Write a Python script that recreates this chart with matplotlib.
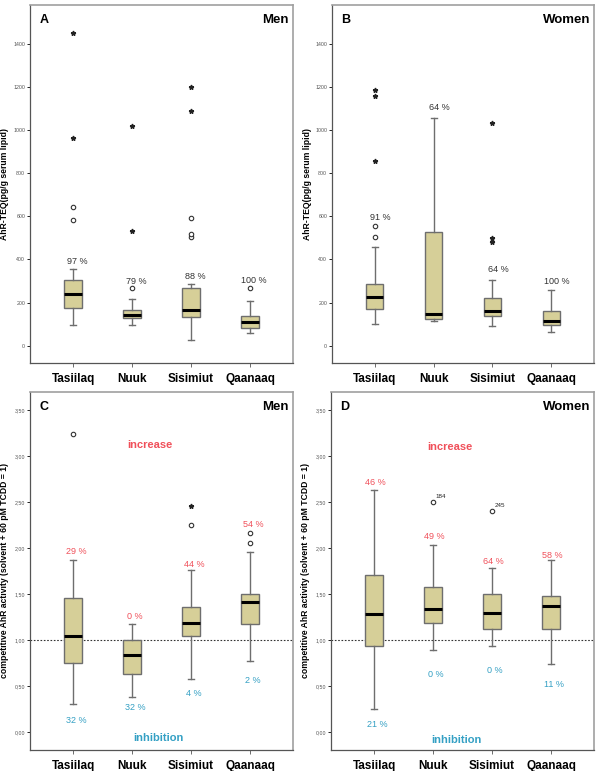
import matplotlib.pyplot as plt
from matplotlib.ticker import FuncFormatter

plt.rcParams['font.family'] = ['Liberation Sans', 'DejaVu Sans']

sites = ['Tasiilaq', 'Nuuk', 'Sisimiut', 'Qaanaaq']

# A - AhR-TEQ, men (whisker low, Q1, median, Q3, whisker high)
teq_men_low = [98, 95, 25, 58]
teq_men_q1 = [173, 128, 132, 80]
teq_men_med = [240, 143, 165, 110]
teq_men_q3 = [305, 165, 267, 138]
teq_men_high = [355, 215, 285, 207]
teq_men_circles = [[581, 642], [268], [503, 518, 592], [270]]
teq_men_stars = [[964, 1450], [530, 1019], [1090, 1200], []]
teq_men_pct = ['97 %', '79 %', '88 %', '100 %']
teq_men_pct_y = [392, 300, 321, 302]

# B - AhR-TEQ, women
teq_wom_low = [100, 115, 92, 62]
teq_wom_q1 = [170, 122, 138, 95]
teq_wom_med = [228, 148, 160, 113]
teq_wom_q3 = [288, 527, 220, 163]
teq_wom_high = [457, 1055, 303, 258]
teq_wom_circles = [[502, 553], [], [], []]
teq_wom_stars = [[858, 1158, 1185], [], [479, 501, 1032], []]
teq_wom_pct = ['91 %', '64 %', '64 %', '100 %']
teq_wom_pct_y = [594, 1104, 353, 297]

# C - competitive AhR activity, men
act_men_low = [0.30, 0.38, 0.58, 0.77]
act_men_q1 = [0.75, 0.63, 1.04, 1.17]
act_men_med = [1.04, 0.84, 1.19, 1.41]
act_men_q3 = [1.46, 1.00, 1.36, 1.50]
act_men_high = [1.87, 1.18, 1.76, 1.96]
act_men_circles = [[3.24], [], [2.25], [2.06, 2.17]]
act_men_stars = [[], [], [2.46], []]
act_men_up_pct = ['29 %', '0 %', '44 %', '54 %']
act_men_up_y = [1.96, 1.26, 1.82, 2.26]
act_men_down_pct = ['32 %', '32 %', '4 %', '2 %']
act_men_down_y = [0.12, 0.27, 0.42, 0.565]

# D - competitive AhR activity, women
act_wom_low = [0.245, 0.89, 0.935, 0.735]
act_wom_q1 = [0.94, 1.19, 1.12, 1.12]
act_wom_med = [1.28, 1.34, 1.29, 1.37]
act_wom_q3 = [1.71, 1.58, 1.50, 1.48]
act_wom_high = [2.63, 2.04, 1.79, 1.87]
act_wom_circles = [[], [2.50], [2.40], []]
act_wom_circle_ids = [[], ['184'], ['245'], []]
act_wom_stars = [[], [], [], []]
act_wom_up_pct = ['46 %', '49 %', '64 %', '58 %']
act_wom_up_y = [2.71, 2.13, 1.86, 1.92]
act_wom_down_pct = ['21 %', '0 %', '0 %', '11 %']
act_wom_down_y = [0.08, 0.63, 0.665, 0.52]

BOX = '#d6cf98'
RED = '#f0505a'
BLUE = '#34a0c4'
W, H = 600, 771

fig = plt.figure(figsize=(6, 7.71), dpi=100)


def make_axes(x0, y0, x1, y1):
    return fig.add_axes([x0 / W, 1 - y1 / H, (x1 - x0) / W, (y1 - y0) / H])


def draw_boxes(ax, low, q1, med, q3, high, circles, stars):
    stats = []
    for i in range(len(sites)):
        stats.append(dict(whislo=low[i], q1=q1[i], med=med[i], q3=q3[i], whishi=high[i]))
    pos = list(range(1, len(sites) + 1))
    ax.bxp(stats, positions=pos, widths=0.29, showfliers=False, patch_artist=True,
           capwidths=0.1,
           boxprops=dict(facecolor=BOX, edgecolor='#6e6e6e', linewidth=1.0),
           whiskerprops=dict(color='#6e6e6e', linewidth=1.0),
           capprops=dict(color='#6e6e6e', linewidth=1.0),
           medianprops=dict(color='black', linewidth=2.2))
    for i, p in enumerate(pos):
        if circles[i]:
            ax.plot([p] * len(circles[i]), circles[i], 'o', ms=3.2, mfc='white',
                    mec='#333333', mew=0.8, zorder=3)
        if stars[i]:
            ax.plot([p] * len(stars[i]), stars[i], '*', ms=3.5, color='#222222', zorder=3)
    return pos


def style(ax, letter, sex, ylabel, ylim, yticks, fmt):
    ax.set_xlim(0.27, 4.73)
    ax.set_ylim(*ylim)
    ax.set_yticks(yticks)
    ax.yaxis.set_major_formatter(FuncFormatter(fmt))
    ax.set_xticks(range(1, 5))
    ax.set_xticklabels(sites, fontsize=8.5, fontweight='bold')
    ax.tick_params(axis='y', labelsize=3.8, labelcolor='#555555', length=2, width=0.6, pad=1.5)
    ax.tick_params(axis='x', length=3, width=0.6, pad=4, color='#555555')
    for s in ['top', 'right']:
        ax.spines[s].set_color('#a0a0a0')
        ax.spines[s].set_linewidth(1.2)
    for s in ['left', 'bottom']:
        ax.spines[s].set_color('#555555')
        ax.spines[s].set_linewidth(0.9)
    ax.set_ylabel(ylabel, fontsize=6.2, fontweight='bold')
    ax.yaxis.set_label_coords(-0.078, 0.5)
    ax.text(0.035, 0.975, letter, transform=ax.transAxes, fontsize=9,
            fontweight='bold', va='top', ha='left')
    ax.text(0.985, 0.975, sex, transform=ax.transAxes, fontsize=9.5,
            fontweight='bold', va='top', ha='right')


def int_fmt(v, _):
    return f'{v:.0f}'


def comma_fmt(v, _):
    return f'{v:.2f}'.replace('.', ',')


teq_ticks = [0, 200, 400, 600, 800, 1000, 1200, 1400]
act_ticks = [0, 0.5, 1.0, 1.5, 2.0, 2.5, 3.0, 3.5]

# A
axA = make_axes(30, 5, 293, 363)
pos = draw_boxes(axA, teq_men_low, teq_men_q1, teq_men_med, teq_men_q3, teq_men_high,
                 teq_men_circles, teq_men_stars)
for p, t, y in zip(pos, teq_men_pct, teq_men_pct_y):
    axA.text(p + 0.07, y, t, fontsize=6.5, color='#333333', ha='center', va='center')
style(axA, 'A', 'Men', 'AhR-TEQ(pg/g serum lipid)', (-80, 1580), teq_ticks, int_fmt)

# B
axB = make_axes(332, 5, 594, 363)
pos = draw_boxes(axB, teq_wom_low, teq_wom_q1, teq_wom_med, teq_wom_q3, teq_wom_high,
                 teq_wom_circles, teq_wom_stars)
for p, t, y in zip(pos, teq_wom_pct, teq_wom_pct_y):
    axB.text(p + 0.1, y, t, fontsize=6.5, color='#333333', ha='center', va='center')
style(axB, 'B', 'Women', 'AhR-TEQ(pg/g serum lipid)', (-80, 1580), teq_ticks, int_fmt)

# C
axC = make_axes(30, 392, 293, 750)
pos = draw_boxes(axC, act_men_low, act_men_q1, act_men_med, act_men_q3, act_men_high,
                 act_men_circles, act_men_stars)
axC.axhline(1.0, color='#333333', lw=0.8, ls=(0, (1.5, 1.5)), zorder=0)
for p, t, y in zip(pos, act_men_up_pct, act_men_up_y):
    axC.text(p + 0.05, y, t, fontsize=6.5, color=RED, ha='center', va='center')
for p, t, y in zip(pos, act_men_down_pct, act_men_down_y):
    axC.text(p + 0.05, y, t, fontsize=6.5, color=BLUE, ha='center', va='center')
axC.text(2.31, 3.12, 'increase', fontsize=8, fontweight='bold', color=RED, ha='center', va='center')
axC.text(2.44, -0.07, 'inhibition', fontsize=8, fontweight='bold', color=BLUE, ha='center', va='center')
style(axC, 'C', 'Men', 'competitive AhR activity (solvent + 60 pM TCDD = 1)',
      (-0.196, 3.70), act_ticks, comma_fmt)

# D
axD = make_axes(331, 392, 594, 750)
pos = draw_boxes(axD, act_wom_low, act_wom_q1, act_wom_med, act_wom_q3, act_wom_high,
                 act_wom_circles, act_wom_stars)
axD.axhline(1.0, color='#333333', lw=0.8, ls=(0, (1.5, 1.5)), zorder=0)
for p, vals, ids in zip(pos, act_wom_circles, act_wom_circle_ids):
    for v, s in zip(vals, ids):
        axD.text(p + 0.05, v + 0.04, s, fontsize=4.5, color='#222222', ha='left', va='bottom')
for p, t, y in zip(pos, act_wom_up_pct, act_wom_up_y):
    axD.text(p + 0.03, y, t, fontsize=6.5, color=RED, ha='center', va='center')
for p, t, y in zip(pos, act_wom_down_pct, act_wom_down_y):
    axD.text(p + 0.05, y, t, fontsize=6.5, color=BLUE, ha='center', va='center')
axD.text(2.28, 3.10, 'increase', fontsize=8, fontweight='bold', color=RED, ha='center', va='center')
axD.text(2.40, -0.09, 'inhibition', fontsize=8, fontweight='bold', color=BLUE, ha='center', va='center')
style(axD, 'D', 'Women', 'competitive AhR activity (solvent + 60 pM TCDD = 1)',
      (-0.196, 3.70), act_ticks, comma_fmt)

fig.savefig('out.png', dpi=100)
